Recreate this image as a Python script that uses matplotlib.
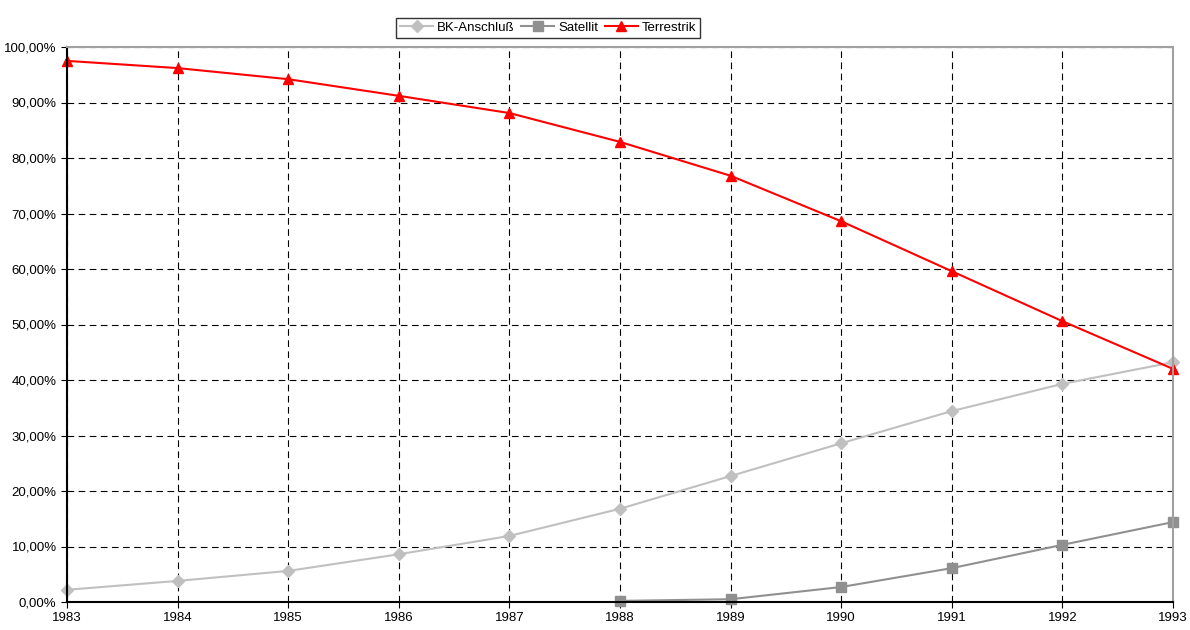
import matplotlib
matplotlib.use("Agg")
from matplotlib import pyplot as plt
from matplotlib.ticker import FuncFormatter

plt.rcParams['font.family'] = ['Liberation Sans', 'DejaVu Sans']

years = [1983, 1984, 1985, 1986, 1987, 1988, 1989, 1990, 1991, 1992, 1993]
bk_anschluss = [2.2, 3.8, 5.6, 8.6, 11.9, 16.8, 22.7, 28.6, 34.4, 39.3, 43.2]
sat_years = [1988, 1989, 1990, 1991, 1992, 1993]
satellit = [0.2, 0.5, 2.7, 6.1, 10.3, 14.4]
terrestrik = [97.5, 96.2, 94.2, 91.2, 88.1, 82.9, 76.8, 68.6, 59.6, 50.6, 42.0]

fig = plt.figure(figsize=(11.9, 6.3), dpi=100)
ax = fig.add_axes([67 / 1190, 1 - 602 / 630, (1173 - 67) / 1190, (602 - 47) / 630])

ax.plot(years, bk_anschluss, color='#c0c0c0', marker='D', markersize=6, lw=1.5, label='BK-Anschluß')
ax.plot(sat_years, satellit, color='#909090', marker='s', markersize=7, lw=1.5, label='Satellit')
ax.plot(years, terrestrik, color='#ff0000', marker='^', markersize=7, lw=1.5, label='Terrestrik')

ax.set_xlim(1983, 1993)
ax.set_ylim(0, 100)
ax.set_xticks(years)
ax.set_yticks(range(0, 101, 10))
ax.yaxis.set_major_formatter(FuncFormatter(lambda v, p: f"{v:.2f}".replace('.', ',') + '%'))
ax.grid(True, color='black', linestyle=(0, (6, 4)), lw=0.8)
ax.tick_params(labelsize=9.5, length=4, direction='out')

for s in ['top', 'right']:
    ax.spines[s].set_color('#a0a0a0')
    ax.spines[s].set_linewidth(1.5)
for s in ['left', 'bottom']:
    ax.spines[s].set_color('black')
    ax.spines[s].set_linewidth(1.5)

for line in ax.get_lines():
    line.set_clip_on(False)

leg = ax.legend(loc='lower center', bbox_to_anchor=(548 / 1190, 1 - 38 / 630),
                bbox_transform=fig.transFigure, ncol=3, frameon=True, fancybox=False,
                fontsize=9.5, handlelength=2.5, handletextpad=0.3, columnspacing=0.5,
                borderpad=0.3, borderaxespad=0)
leg.get_frame().set_edgecolor('black')
leg.get_frame().set_linewidth(1.0)

fig.savefig("out.png", dpi=100)
